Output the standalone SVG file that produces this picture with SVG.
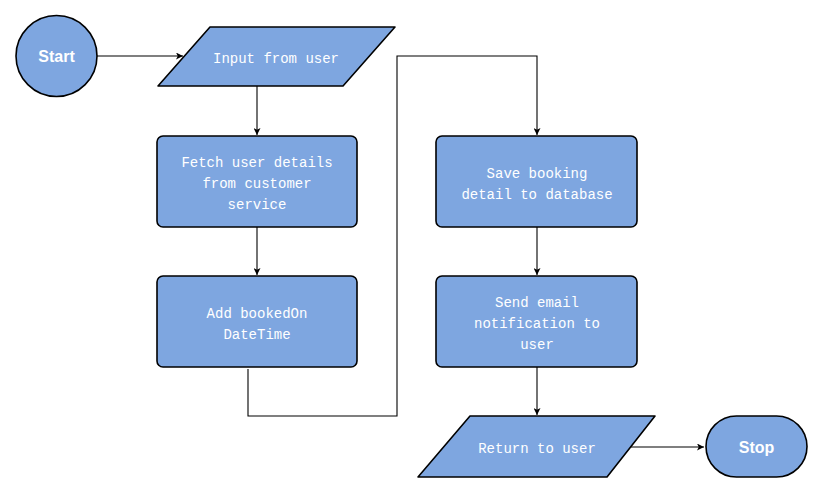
<svg xmlns="http://www.w3.org/2000/svg" width="822" height="492" viewBox="0 0 822 492">
<style>
.shape{fill:#7EA6E0;stroke:#000;stroke-width:1.6}
.t{font-family:"Liberation Mono","Courier New",monospace;font-size:14px;fill:#fff;text-anchor:middle}
.term{font-family:"Liberation Sans",Arial,Helvetica,sans-serif;font-size:16px;font-weight:bold;fill:#fff;text-anchor:middle}
.edge{fill:none;stroke:#000;stroke-width:1.1}
</style>
<defs>
<marker id="arr" viewBox="0 0 10 10" refX="10" refY="5" markerWidth="7" markerHeight="7" orient="auto" markerUnits="userSpaceOnUse">
<path d="M0,0 L10,5 L0,10 L2.5,5 Z" fill="#000"/>
</marker>
</defs>
<rect width="822" height="492" fill="#fff"/>
<g id="connectors">
<path class="edge" d="M97,56 H183" marker-end="url(#arr)"/>
<path class="edge" d="M257,86 V135" marker-end="url(#arr)"/>
<path class="edge" d="M257,227 V275" marker-end="url(#arr)"/>
<path class="edge" d="M248,369 V416 H397 V56 H537 V135" marker-end="url(#arr)"/>
<path class="edge" d="M537,227 V275" marker-end="url(#arr)"/>
<path class="edge" d="M537,367 V415" marker-end="url(#arr)"/>
<path class="edge" d="M630,447 H704" marker-end="url(#arr)"/>
</g>
<g id="start">
<circle class="shape" cx="56.5" cy="56" r="40.5"/>
<text class="term" x="56.5" y="61.5">Start</text>
</g>
<g id="input">
<path class="shape" d="M210,27 H395 L343,86 H158 Z" stroke-linejoin="round"/>
<text class="t" x="276" y="63">Input from user</text>
</g>
<g id="fetch">
<rect class="shape" x="157" y="136" width="200" height="91" rx="6"/>
<text class="t" x="257" y="167">Fetch user details</text>
<text class="t" x="257" y="188">from customer</text>
<text class="t" x="257" y="209">service</text>
</g>
<g id="add">
<rect class="shape" x="157" y="276" width="200" height="91" rx="6"/>
<text class="t" x="257" y="318">Add bookedOn</text>
<text class="t" x="257" y="339">DateTime</text>
</g>
<g id="save">
<rect class="shape" x="436" y="136" width="201" height="91" rx="6"/>
<text class="t" x="537" y="178">Save booking</text>
<text class="t" x="537" y="199">detail to database</text>
</g>
<g id="send">
<rect class="shape" x="436" y="276" width="201" height="91" rx="6"/>
<text class="t" x="537" y="307">Send email</text>
<text class="t" x="537" y="328">notification to</text>
<text class="t" x="537" y="349">user</text>
</g>
<g id="return">
<path class="shape" d="M470,416 H655 L607,477 H418 Z" stroke-linejoin="round"/>
<text class="t" x="537" y="453">Return to user</text>
</g>
<g id="stop">
<rect class="shape" x="706" y="416" width="101" height="61" rx="30.5"/>
<text class="term" x="756.5" y="452.5">Stop</text>
</g>
</svg>
